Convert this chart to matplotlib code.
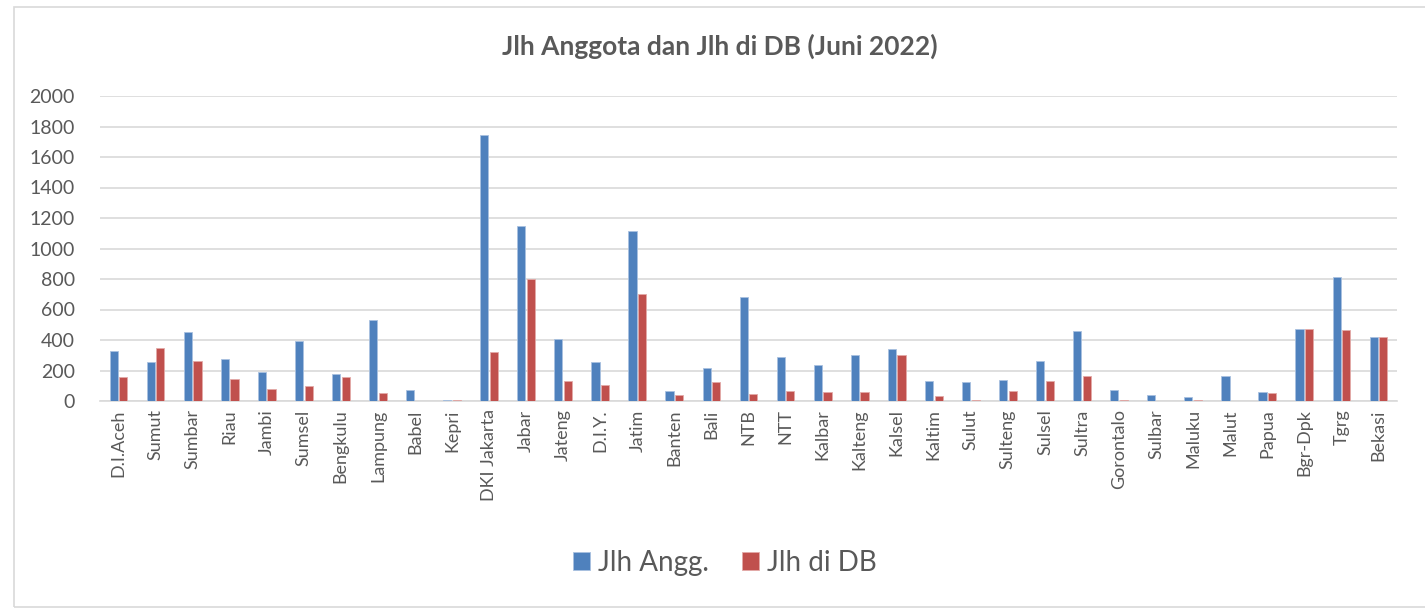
import numpy as np
import matplotlib.pyplot as plt
import matplotlib.patches as patches

regions = ["D.I.Aceh", "Sumut", "Sumbar", "Riau", "Jambi", "Sumsel", "Bengkulu",
           "Lampung", "Babel", "Kepri", "DKI Jakarta", "Jabar", "Jateng", "D.I.Y.",
           "Jatim", "Banten", "Bali", "NTB", "NTT", "Kalbar", "Kalteng", "Kalsel",
           "Kaltim", "Sulut", "Sulteng", "Sulsel", "Sultra", "Gorontalo", "Sulbar",
           "Maluku", "Malut", "Papua", "Bgr-Dpk", "Tgrg", "Bekasi"]
jlh_angg = [325, 257, 453, 273, 189, 396, 178, 534, 70, 4, 1742, 1148, 408, 258,
            1116, 63, 214, 679, 286, 238, 302, 343, 132, 125, 139, 262, 458, 73,
            42, 26, 167, 59, 469, 812, 419]
jlh_db = [156, 350, 262, 145, 81, 97, 158, 53, 0, 4, 321, 799, 133, 107, 701, 37,
          122, 46, 65, 57, 59, 304, 31, 7, 66, 134, 161, 9, 2, 9, 2, 52, 469, 465,
          419]

blue = "#4F81BD"
red = "#C0504D"
text_col = "#595959"
plt.rcParams['font.family'] = ['Lato', 'DejaVu Sans']

fig = plt.figure(figsize=(14.25, 6.09), dpi=100)
ax = fig.add_axes([100 / 1425, 1 - 401 / 609, 1297 / 1425, 305 / 609])

x = np.arange(len(regions))
w = 0.22
ax.bar(x - 0.13, jlh_angg, w, color=blue, edgecolor="#A9C1E0", linewidth=0.6,
       label="Jlh Angg.", zorder=3)
ax.bar(x + 0.13, jlh_db, w, color=red, edgecolor="#E3AAA8", linewidth=0.6,
       label="Jlh di DB", zorder=3)

ax.set_xlim(-0.5, len(regions) - 0.5)
ax.set_ylim(0, 2000)
ax.set_yticks(range(0, 2001, 200))
ax.yaxis.grid(True, color="#D9D9D9", linewidth=1.2, zorder=0)
ax.set_axisbelow(True)
for s in ["top", "right", "left"]:
    ax.spines[s].set_visible(False)
ax.spines["bottom"].set_color("#D9D9D9")
ax.spines["bottom"].set_linewidth(1.2)
ax.tick_params(length=0, colors=text_col, pad=6)
ax.tick_params(axis="y", pad=18, labelsize=14)
ax.set_xticks(x)
ax.set_xticklabels(regions, rotation=90, fontsize=13)

fig.text(720 / 1425, 1 - 46 / 609, "Jlh Anggota dan Jlh di DB (Juni 2022)",
         ha="center", va="center", fontsize=19, fontweight="bold", color=text_col)

leg = fig.legend(loc="center", bbox_to_anchor=(725 / 1425, 1 - 563 / 609), ncol=2,
                 frameon=False, fontsize=20, handlelength=0.6, handleheight=0.6,
                 handletextpad=0.3, columnspacing=1.2)
for t in leg.get_texts():
    t.set_color(text_col)

fig.patches.append(patches.Rectangle((14 / 1425, 2 / 609), 1420 / 1425, 600 / 609,
                                     transform=fig.transFigure, fill=False,
                                     edgecolor="#D9D9D9", linewidth=1.2))

fig.savefig("out.png", dpi=100)
